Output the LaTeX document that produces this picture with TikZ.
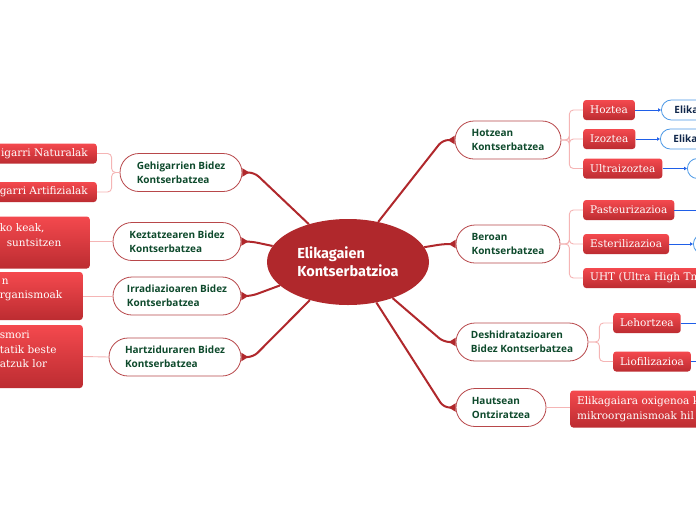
\documentclass[tikz,border=0pt]{standalone}
\usepackage{fontspec}
\newfontfamily\rootfont{Fira Sans}
\newfontfamily\branchfont{Open Sans}
\newfontfamily\leaffont{DejaVu Serif}
\usetikzlibrary{arrows.meta,shapes.geometric,calc}
\definecolor{DarkRed}{HTML}{B0282C}
\definecolor{EdgeRed}{HTML}{B8474A}
\definecolor{BranchText}{HTML}{0E4A2C}
\definecolor{SoftPink}{HTML}{F5B5B5}
\definecolor{LeafTop}{HTML}{F4494E}
\definecolor{LeafBottom}{HTML}{BC2C31}
\definecolor{BlueLine}{HTML}{1F5FE8}
\definecolor{BlueEdge}{HTML}{4A98E6}
\definecolor{BlueText}{HTML}{10264A}
\tikzset{
  root/.style={ellipse, fill=DarkRed, text=white, minimum width=162pt, minimum height=86pt, inner sep=0pt, align=left, font=\rootfont\bfseries\fontsize{14.5}{18}\selectfont},
  branch/.style={rounded corners=19pt, draw=EdgeRed, fill=white, line width=0.8pt, minimum height=38pt, align=left, text=BranchText, font=\branchfont\bfseries\fontsize{10}{14}\selectfont},
  leaf/.style={rounded corners=3pt, top color=LeafTop, bottom color=LeafBottom, draw=none, text=white, minimum height=20pt, inner xsep=7pt, inner ysep=3pt, align=left, font=\leaffont\fontsize{10.5}{14.5}\selectfont},
  bluebox/.style={rounded corners=10pt, draw=BlueEdge, fill=white, line width=0.8pt, minimum height=20pt, text=BlueText, inner xsep=13pt, align=left, font=\branchfont\bfseries\fontsize{10}{12}\selectfont},
  conn/.style={draw=DarkRed, line width=2pt, rounded corners=6pt, -{Triangle[reversed,length=7pt,width=8pt]}},
  sub/.style={draw=SoftPink, line width=0.9pt, rounded corners=4pt},
  blueln/.style={draw=BlueLine, line width=0.9pt, -{Latex[length=3pt,width=4pt]}}
}
\begin{document}
\begin{tikzpicture}[x=1pt,y=-1pt]
\useasboundingbox (0,0) rectangle (696,520);
\fill[white] (0,0) rectangle (696,520);
\clip (0,0) rectangle (696,520);

\node[root] (root) at (348,262) {Elikagaien\\Kontserbatzioa};

\node[branch,minimum width=122pt] (geh) at (181,172.5) {Gehigarrien Bidez\\Kontserbatzea};
\node[branch,minimum width=128pt] (kez) at (177,241.5) {Keztatzearen Bidez\\Kontserbatzea};
\node[branch,minimum width=128pt] (irr) at (177,296) {Irradiazioaren Bidez\\Kontserbatzea};
\node[branch,minimum width=132pt] (har) at (175,357) {Hartziduraren Bidez\\Kontserbatzea};
\node[branch,minimum width=106pt] (hot) at (508,140) {Hotzean\\Kontserbatzea};
\node[branch,minimum width=104pt] (ber) at (508,244) {Beroan\\Kontserbatzea};
\node[branch,minimum width=132pt] (des) at (522,342) {Deshidratazioaren\\Bidez Kontserbatzea};
\node[branch,minimum width=90pt] (hau) at (501,407.5) {Hautsean\\Ontziratzea};

\node[leaf,anchor=east,inner xsep=9pt] (nat) at (97,153.5) {igarri Naturalak};
\node[leaf,anchor=east,inner xsep=9pt] (art) at (97,192) {garri Artifizialak};
\node[leaf,anchor=east,text width=83pt,minimum height=52pt] (kezl) at (90,242.5) {ko keak,\\\hspace*{7pt}suntsitzen\\\mbox{}};
\node[leaf,anchor=east,text width=76pt,minimum height=48pt] (irrl) at (83,296) {\hspace*{2pt}n\\rganismoak\\\mbox{}};
\node[leaf,anchor=east,text width=76pt,minimum height=63pt] (harl) at (83,356.5) {smori\\tatik beste\\atzuk lor\\\mbox{}};

\node[leaf,anchor=west] (hoz) at (583,110) {Hoztea};
\node[leaf,anchor=west] (izo) at (583,139) {Izoztea};
\node[leaf,anchor=west] (ult) at (583,168.5) {Ultraizoztea};
\node[leaf,anchor=west] (pas) at (583,210) {Pasteurizazioa};
\node[leaf,anchor=west] (est) at (583,244) {Esterilizazioa};
\node[leaf,anchor=west,text width=140pt] (uht) at (583,278) {UHT (Ultra High Tm};
\node[leaf,anchor=west] (leh) at (613,323) {Lehortzea};
\node[leaf,anchor=west] (lio) at (613,361.5) {Liofilizazioa};
\node[leaf,anchor=west,text width=150pt,minimum height=37pt] (oxi) at (570,409) {Elikagaiara oxigenoa k\\mikroorganismoak hil};

\node[bluebox,anchor=west,text width=40pt] (hozb) at (661,110) {Elika};
\node[bluebox,anchor=west,text width=40pt] (izob) at (660,139) {Elika};
\node[bluebox,anchor=west,minimum width=40pt] (ultb) at (687,168.5) {};
\node[bluebox,anchor=west,minimum width=40pt] (estb) at (693,244) {};
\coordinate (pasb) at (710,210);
\coordinate (lehb) at (710,323);
\coordinate (liob) at (710,361.5);

\draw[conn] (root.136) -- ($(geh.east)+(12,0)$) -- (geh.east);
\draw[conn] (root.168) -- ($(kez.east)+(10,0)$) -- (kez.east);
\draw[conn] (root.199) -- ($(irr.east)+(10,0)$) -- (irr.east);
\draw[conn] (root.225) -- ($(har.east)+(12,0)$) -- (har.east);
\draw[conn] (root.53) -- ($(hot.west)+(-12,0)$) -- (hot.west);
\draw[conn] (root.11) -- ($(ber.west)+(-12,0)$) -- (ber.west);
\draw[conn] (root.321) -- ($(des.west)+(-12,0)$) -- (des.west);
\draw[conn] (root.305) -- ($(hau.west)+(-12,0)$) -- (hau.west);

\draw[sub] (geh.west) -- ++(-8,0) |- (nat.east);
\draw[sub] (geh.west) -- ++(-8,0) |- (art.east);
\draw[sub] (kez.west) -- (kez.west -| kezl.east);
\draw[sub] (irr.west) -- (irrl.east);
\draw[sub] (har.west) -- (harl.east);
\draw[sub] (hot.east) -- ++(8,0) |- (hoz.west);
\draw[sub] (hot.east) -- ++(8,0) |- (izo.west);
\draw[sub] (hot.east) -- ++(8,0) |- (ult.west);
\draw[sub] (ber.east) -- ++(9,0) |- (pas.west);
\draw[sub] (ber.east) -- ++(9,0) |- (est.west);
\draw[sub] (ber.east) -- ++(9,0) |- (uht.west);
\draw[sub] (des.east) -- ++(11,0) |- (leh.west);
\draw[sub] (des.east) -- ++(11,0) |- (lio.west);
\draw[sub] (hau.east) -- (hau.east -| oxi.west);

\draw[blueln] (hoz.east) -- (hozb.west);
\draw[blueln] (izo.east) -- (izob.west);
\draw[blueln] (ult.east) -- (ultb.west);
\draw[blueln] (est.east) -- (estb.west);
\draw[blueln] (pas.east) -- (pasb);
\draw[blueln] (leh.east) -- (lehb);
\draw[blueln] (lio.east) -- (liob);
\end{tikzpicture}
\end{document}
